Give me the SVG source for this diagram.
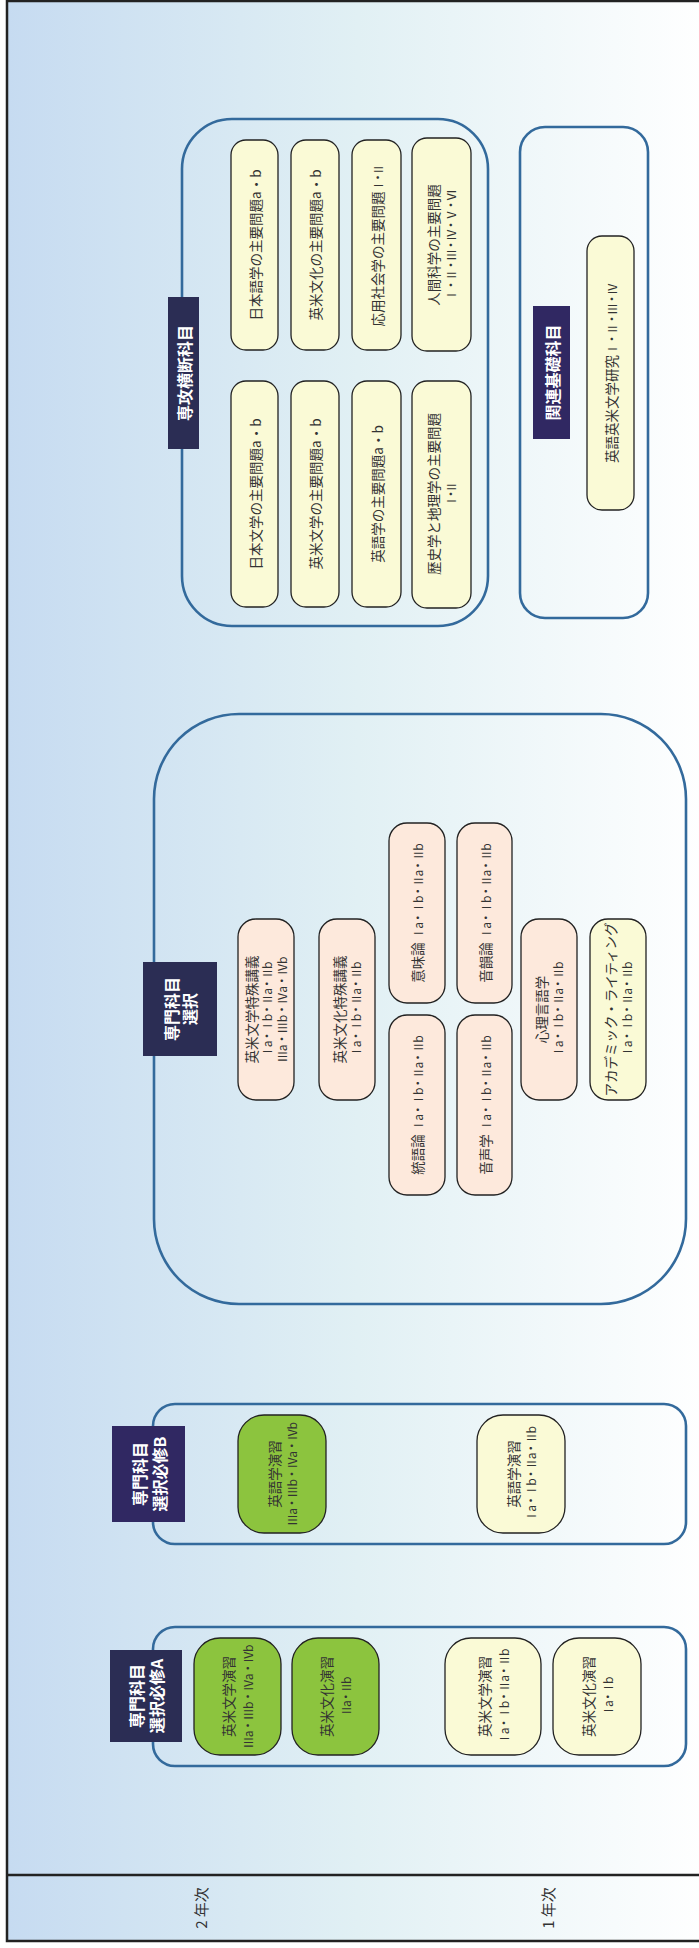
<svg xmlns="http://www.w3.org/2000/svg" width="699" height="1948" viewBox="0 0 699 1948">
<defs>
<linearGradient id="bg" x1="0" y1="0" x2="1" y2="0">
<stop offset="0" stop-color="#c6dbf1"/>
<stop offset="0.5" stop-color="#e1f0f4"/>
<stop offset="1" stop-color="#ffffff"/>
</linearGradient>
</defs>
<style>
.frame{fill:url(#bg);stroke:#222;stroke-width:2.5}
.line{stroke:#222;stroke-width:2.5}
.cont{fill:none;stroke:#336a9c;stroke-width:2.6}
.lab{fill:#2b2d54}
.labp{fill:#302862}
.cream{fill:#fafad6;stroke:#222;stroke-width:1.3}
.pink{fill:#fde9dc;stroke:#222;stroke-width:1.3}
.green{fill:#8cc43e;stroke:#222;stroke-width:1.3}
.t{font-family:"Noto Sans CJK JP","Liberation Serif",serif;font-size:13.5px;fill:#333;text-anchor:middle;dominant-baseline:central}
.n{font-size:12px}
.lt{font-family:"Noto Sans CJK JP","Liberation Sans",sans-serif;font-size:16px;font-weight:bold;fill:#ffffff;text-anchor:middle;dominant-baseline:central}
.yt{font-family:"Noto Sans CJK JP","Liberation Serif",serif;font-size:15px;fill:#333;text-anchor:middle;dominant-baseline:central}
</style>
<rect x="0" y="0" width="699" height="1948" fill="#ffffff"/>
<rect class="frame" x="7" y="1" width="702" height="1940"/>
<line class="line" x1="7" y1="1875" x2="699" y2="1875"/>
<g id="year2"><text class="yt" transform="translate(200,1908) rotate(-90)">2 年次</text></g>
<g id="year1"><text class="yt" transform="translate(547,1908) rotate(-90)">1 年次</text></g>

<g id="connectors"></g>

<g id="group-senkou">
<rect class="cont" x="182" y="119" width="306" height="507" rx="50"/>
<rect class="lab" x="168" y="297" width="31" height="152"/>
<text class="lt" transform="translate(183.5,373) rotate(-90)">専攻横断科目</text>
</g>
<g id="n-nihongo"><rect class="cream" x="231" y="140" width="47" height="210" rx="15"/>
<text class="t" transform="translate(254.5,245) rotate(-90)">日本語学の主要問題a・b</text></g>
<g id="n-nihonbun"><rect class="cream" x="231" y="381" width="47" height="226" rx="15"/>
<text class="t" transform="translate(254.5,494) rotate(-90)">日本文学の主要問題a・b</text></g>
<g id="n-eibeibunka"><rect class="cream" x="291" y="140" width="48" height="210" rx="15"/>
<text class="t" transform="translate(315,245) rotate(-90)">英米文化の主要問題a・b</text></g>
<g id="n-eibeibungaku"><rect class="cream" x="291" y="381" width="48" height="226" rx="15"/>
<text class="t" transform="translate(315,494) rotate(-90)">英米文学の主要問題a・b</text></g>
<g id="n-ouyou"><rect class="cream" x="352" y="140" width="49" height="210" rx="15"/>
<text class="t" transform="translate(376.5,245) rotate(-90)">応用社会学の主要問題<tspan class="n" textLength="28">Ⅰ・Ⅱ</tspan></text></g>
<g id="n-eigogaku"><rect class="cream" x="352" y="381" width="49" height="226" rx="15"/>
<text class="t" transform="translate(376.5,494) rotate(-90)">英語学の主要問題a・b</text></g>
<g id="n-ningen"><rect class="cream" x="412" y="138" width="59" height="213" rx="15"/>
<text class="t" transform="translate(441.5,245) rotate(-90)"><tspan x="0" y="-8.5">人間科学の主要問題</tspan><tspan class="n" x="0" y="8.5" textLength="112">Ⅰ・Ⅱ・Ⅲ・Ⅳ・Ⅴ・Ⅵ</tspan></text></g>
<g id="n-rekishi"><rect class="cream" x="412" y="381" width="59" height="227" rx="15"/>
<text class="t" transform="translate(441.5,494) rotate(-90)"><tspan x="0" y="-8.5">歴史学と地理学の主要問題</tspan><tspan class="n" x="0" y="8.5" textLength="26">Ⅰ・Ⅱ</tspan></text></g>

<g id="group-kanren">
<rect class="cont" x="520" y="127" width="128" height="491" rx="25"/>
<rect class="labp" x="533" y="306" width="37" height="133"/>
<text class="lt" transform="translate(551.5,372.5) rotate(-90)">関連基礎科目</text>
</g>
<g id="n-eigoeibei"><rect class="cream" x="587" y="236" width="47" height="274" rx="15"/>
<text class="t" transform="translate(610.5,373) rotate(-90)">英語英米文学研究<tspan class="n" textLength="72">Ⅰ・Ⅱ・Ⅲ・Ⅳ</tspan></text></g>

<g id="group-sentaku">
<rect class="cont" x="154" y="714" width="532" height="590" rx="85"/>
<rect class="lab" x="143" y="962" width="74" height="94"/>
<text class="lt" transform="translate(180,1009) rotate(-90)"><tspan x="0" y="-9">専門科目</tspan><tspan x="0" y="9">選択</tspan></text>
</g>
<g id="n-eibunkougi"><rect class="pink" x="238" y="919" width="56" height="181" rx="18"/>
<text class="t" transform="translate(266,1009.5) rotate(-90)"><tspan x="0" y="-15">英米文学特殊講義</tspan><tspan class="n" x="0" y="0" textLength="96">Ⅰa・Ⅰb・Ⅱa・Ⅱb</tspan><tspan class="n" x="0" y="15" textLength="106">Ⅲa・Ⅲb・Ⅳa・Ⅳb</tspan></text></g>
<g id="n-eibunkakougi"><rect class="pink" x="319" y="919" width="56" height="181" rx="18"/>
<text class="t" transform="translate(347,1009.5) rotate(-90)"><tspan x="0" y="-8">英米文化特殊講義</tspan><tspan class="n" x="0" y="8" textLength="96">Ⅰa・Ⅰb・Ⅱa・Ⅱb</tspan></text></g>
<g id="n-imiron"><rect class="pink" x="389" y="823" width="56" height="180" rx="18"/>
<text class="t" transform="translate(417,913) rotate(-90)">意味論 <tspan class="n" textLength="96">Ⅰa・Ⅰb・Ⅱa・Ⅱb</tspan></text></g>
<g id="n-tougoron"><rect class="pink" x="389" y="1015" width="56" height="180" rx="18"/>
<text class="t" transform="translate(417,1105) rotate(-90)">統語論 <tspan class="n" textLength="96">Ⅰa・Ⅰb・Ⅱa・Ⅱb</tspan></text></g>
<g id="n-oninron"><rect class="pink" x="457" y="823" width="55" height="180" rx="18"/>
<text class="t" transform="translate(484.5,913) rotate(-90)">音韻論 <tspan class="n" textLength="96">Ⅰa・Ⅰb・Ⅱa・Ⅱb</tspan></text></g>
<g id="n-onseigaku"><rect class="pink" x="457" y="1015" width="55" height="180" rx="18"/>
<text class="t" transform="translate(484.5,1105) rotate(-90)">音声学 <tspan class="n" textLength="96">Ⅰa・Ⅰb・Ⅱa・Ⅱb</tspan></text></g>
<g id="n-shinri"><rect class="pink" x="521" y="919" width="56" height="181" rx="18"/>
<text class="t" transform="translate(549,1009.5) rotate(-90)"><tspan x="0" y="-8">心理言語学</tspan><tspan class="n" x="0" y="8" textLength="96">Ⅰa・Ⅰb・Ⅱa・Ⅱb</tspan></text></g>
<g id="n-academic"><rect class="cream" x="590" y="919" width="56" height="181" rx="18"/>
<text class="t" transform="translate(618,1009.5) rotate(-90)"><tspan x="0" y="-8">アカデミック・ライティング</tspan><tspan class="n" x="0" y="8" textLength="96">Ⅰa・Ⅰb・Ⅱa・Ⅱb</tspan></text></g>

<g id="group-hissuB">
<rect class="cont" x="153" y="1404" width="533" height="140" rx="22"/>
<rect class="labp" x="112" y="1426" width="73" height="96"/>
<text class="lt" transform="translate(148.5,1474) rotate(-90)"><tspan x="0" y="-10">専門科目</tspan><tspan x="0" y="10">選択必修B</tspan></text>
</g>
<g id="n-eigoenshu34"><rect class="green" x="238" y="1415" width="88" height="118" rx="26"/>
<text class="t" transform="translate(282,1474) rotate(-90)"><tspan x="0" y="-8.5">英語学演習</tspan><tspan class="n" x="0" y="8.5" textLength="104">Ⅲa・Ⅲb・Ⅳa・Ⅳb</tspan></text></g>
<g id="n-eigoenshu12"><rect class="cream" x="477" y="1415" width="88" height="118" rx="26"/>
<text class="t" transform="translate(521,1474) rotate(-90)"><tspan x="0" y="-8.5">英語学演習</tspan><tspan class="n" x="0" y="8.5" textLength="96">Ⅰa・Ⅰb・Ⅱa・Ⅱb</tspan></text></g>

<g id="group-hissuA">
<rect class="cont" x="153" y="1627" width="533" height="139" rx="22"/>
<rect class="lab" x="110" y="1650" width="72" height="92"/>
<text class="lt" transform="translate(146,1696) rotate(-90)"><tspan x="0" y="-10">専門科目</tspan><tspan x="0" y="10">選択必修A</tspan></text>
</g>
<g id="n-eibunenshu34"><rect class="green" x="194" y="1638" width="87" height="117" rx="26"/>
<text class="t" transform="translate(237.5,1696.5) rotate(-90)"><tspan x="0" y="-9.5">英米文学演習</tspan><tspan class="n" x="0" y="9.5" textLength="104">Ⅲa・Ⅲb・Ⅳa・Ⅳb</tspan></text></g>
<g id="n-eibunkaenshu2"><rect class="green" x="292" y="1638" width="87" height="117" rx="26"/>
<text class="t" transform="translate(335.5,1696.5) rotate(-90)"><tspan x="0" y="-9.5">英米文化演習</tspan><tspan class="n" x="0" y="9.5" textLength="40">Ⅱa・Ⅱb</tspan></text></g>
<g id="n-eibunenshu12"><rect class="cream" x="445" y="1638" width="96" height="117" rx="26"/>
<text class="t" transform="translate(493,1696.5) rotate(-90)"><tspan x="0" y="-9.5">英米文学演習</tspan><tspan class="n" x="0" y="9.5" textLength="96">Ⅰa・Ⅰb・Ⅱa・Ⅱb</tspan></text></g>
<g id="n-eibunkaenshu1"><rect class="cream" x="553" y="1638" width="88" height="117" rx="26"/>
<text class="t" transform="translate(597,1696.5) rotate(-90)"><tspan x="0" y="-9.5">英米文化演習</tspan><tspan class="n" x="0" y="9.5" textLength="40">Ⅰa・Ⅰb</tspan></text></g>
</svg>
